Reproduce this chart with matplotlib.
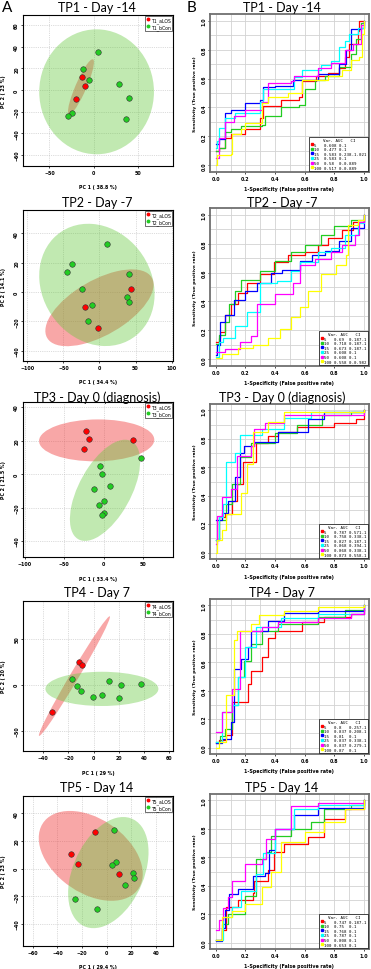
import numpy as np
import matplotlib
matplotlib.use("Agg")
import matplotlib.pyplot as plt
import matplotlib.transforms as transforms
from matplotlib.patches import Ellipse
from matplotlib.lines import Line2D


# ---- PCA score plots (left column) ----
TITLES = ["TP1 - Day -14", "TP2 - Day -7", "TP3 - Day 0 (diagnosis)", "TP4 - Day 7", "TP5 - Day 14"]
PC1_LABELS = ["PC 1 ( 38.8 %)", "PC 1 ( 34.4 %)", "PC 1 ( 33.4 %)", "PC 1 ( 29 %)", "PC 1 ( 29.4 %)"]
PC2_LABELS = ["PC 2 ( 23 %)", "PC 2 ( 14.1 %)", "PC 2 ( 21.5 %)", "PC 2 ( 20 %)", "PC 2 ( 23 %)"]
LOS_NAMES = ["T1_aLOS", "T2_aLOS", "T3_aLOS", "T4_aLOS", "T5_aLOS"]
CON_NAMES = ["T1_bCon", "T2_bCon", "T3_bCon", "T4_bCon", "T5_bCon"]

TP1_LOS_X = [-13.2, -9.4, -20.3]
TP1_LOS_Y = [12.0, 3.7, -8.6]
TP1_CON_X = [-12.0, -5.3, 4.9, 28.6, 39.8, 37.2, -24.4, -29.0]
TP1_CON_Y = [19.0, 9.5, 35.4, 5.8, -7.7, -26.5, -21.5, -24.0]

TP2_LOS_X = [44.4, -20.1, -1.9]
TP2_LOS_Y = [1.8, -10.2, -24.3]
TP2_CON_X = [10.3, -37.9, -44.4, 40.7, -24.3, 38.3, 41.6, -10.3, -15.9]
TP2_CON_Y = [33.0, 19.3, 13.6, 12.5, 2.0, -3.4, -6.6, -8.6, -19.5]

TP3_LOS_X = [-22.7, -18.2, -25.2, 37.6]
TP3_LOS_Y = [25.9, 21.1, 14.7, 20.5]
TP3_CON_X = [47.5, -4.1, -2.5, -11.6, 7.9, 1.2, -6.2, 1.2, -2.1]
TP3_CON_Y = [9.6, 4.8, 0.2, -8.8, -7.4, -16.3, -18.7, -23.1, -24.7]

TP4_LOS_X = [-11.4, -9.3, -32.8]
TP4_LOS_Y = [24.5, 21.3, -30.0]
TP4_CON_X = [-17.0, -13.2, -9.8, -0.3, 6.9, 12.5, 22.0, 20.4, 37.6]
TP4_CON_Y = [6.1, -1.1, -6.5, -13.0, -10.8, 4.3, 0.0, -14.4, 0.4]

TP5_LOS_X = [-9.3, -28.8, -23.4, 10.1]
TP5_LOS_Y = [26.7, 10.6, 3.1, -3.9]
TP5_CON_X = [6.3, 7.6, 4.6, 21.2, 22.0, 15.0, -25.6, -7.9]
TP5_CON_Y = [28.0, 5.1, 2.4, -2.9, -6.7, -12.0, -21.9, -28.9]

# 95% ellipses: centre x, centre y, x half-extent, y half-extent, correlation
LOS_ELLIPSES = [(-14.3, 2.9, 14.7, 25.4, 0.89), (0.0, -10.7, 75.0, 26.2, 0.6),
                (-8.7, 20.1, 73.0, 12.5, 0.03), (-15.2, 9.4, 28.2, 65.0, 0.99),
                (-12.9, 9.2, 42.3, 32.5, -0.4)]
CON_ELLIPSES = [(3.4, -1.7, 65.0, 57.5, 0.0), (-3.5, 4.9, 80.0, 41.7, -0.15),
                (1.9, -9.7, 44.5, 30.2, 0.57), (6.6, -4.5, 44.8, 18.6, 0.0),
                (1.4, -2.9, 32.7, 40.2, 0.37)]

PCA_XLIMS = [(-80, 90), (-106, 102), (-102, 88), (-56, 63), (-68, 54)]
PCA_YLIMS = [(-70, 69), (-47, 56), (-49.5, 43), (-72, 91), (-56, 52.5)]
PCA_XTICKS = [[-50, 0, 50], [-100, -50, 0, 50, 100], [-100, -50, 0, 50],
              [-40, -20, 0, 20, 40, 60], [-60, -40, -20, 0, 20, 40]]
PCA_YTICKS = [[-60, -40, -20, 0, 20, 40, 60], [-40, -20, 0, 20, 40], [-40, -20, 0, 20, 40],
              [-50, 0, 50], [-40, -20, 0, 20, 40]]

# ---- ROC curves (right column) ----
VAR_SIZES = [5, 10, 15, 25, 50, 100]
AUC = [[0.608, 0.477, 0.583, 0.583, 0.58, 0.517],
       [0.69, 0.718, 0.673, 0.608, 0.608, 0.558],
       [0.787, 0.758, 0.827, 0.868, 0.868, 0.873],
       [0.80, 0.837, 0.81, 0.837, 0.837, 0.87],
       [0.747, 0.75, 0.768, 0.787, 0.808, 0.653]]
CI = [["0-1", "0-1", "0.238-1.021", "0-1", "0-0.889", "0-0.889"],
      ["0.187-1", "0.187-1", "0.187-1", "0-1", "0-1", "0-0.982"],
      ["0.571-1", "0.338-1", "0.187-1", "0.394-1", "0.338-1", "0.558-1"],
      ["0.257-1", "0.208-1", "0-1", "0.338-1", "0.279-1", "0-1"],
      ["0.187-1", "0-1", "0-1", "0-1", "0-1", "0-1"]]

ROC1_X = [[0, 0.02, 0.06, 0.1, 0.2, 0.3, 0.32, 0.44, 0.56, 0.58, 0.68, 0.76, 0.83, 0.87, 0.9, 0.96, 0.97, 1.0],
          [0, 0.02, 0.06, 0.1, 0.17, 0.31, 0.33, 0.44, 0.56, 0.6, 0.67, 0.74, 0.83, 0.91, 0.95, 0.98, 1.0],
          [0, 0.02, 0.06, 0.1, 0.2, 0.3, 0.32, 0.4, 0.52, 0.69, 0.83, 0.88, 0.91, 0.98, 1.0],
          [0, 0.01, 0.02, 0.06, 0.13, 0.3, 0.32, 0.53, 0.58, 0.71, 0.78, 0.83, 0.87, 0.9, 0.96, 1.0],
          [0, 0.02, 0.06, 0.12, 0.2, 0.31, 0.35, 0.51, 0.53, 0.69, 0.78, 0.87, 0.93, 0.98, 1.0],
          [0, 0.01, 0.1, 0.11, 0.17, 0.2, 0.31, 0.35, 0.49, 0.58, 0.76, 0.85, 0.91, 0.97, 0.99, 1.0]]
ROC1_Y = [[0.10, 0.12, 0.19, 0.22, 0.25, 0.33, 0.41, 0.45, 0.47, 0.58, 0.62, 0.64, 0.67, 0.75, 0.84, 0.93, 1.0, 1.0],
          [0.10, 0.12, 0.23, 0.25, 0.27, 0.28, 0.34, 0.40, 0.42, 0.53, 0.59, 0.62, 0.68, 0.77, 0.87, 0.98, 1.0],
          [0.15, 0.18, 0.36, 0.38, 0.43, 0.45, 0.54, 0.55, 0.59, 0.63, 0.70, 0.80, 0.94, 0.95, 1.0],
          [0.12, 0.17, 0.26, 0.33, 0.36, 0.44, 0.53, 0.61, 0.66, 0.69, 0.72, 0.82, 0.86, 0.91, 0.95, 1.0],
          [0.05, 0.19, 0.30, 0.34, 0.38, 0.44, 0.57, 0.58, 0.62, 0.67, 0.71, 0.80, 0.84, 0.97, 1.0],
          [0.0, 0.07, 0.08, 0.22, 0.25, 0.29, 0.43, 0.47, 0.50, 0.59, 0.62, 0.66, 0.73, 0.75, 0.91, 1.0]]

ROC2_X = [[0, 0.02, 0.03, 0.06, 0.10, 0.15, 0.21, 0.30, 0.39, 0.49, 0.60, 0.69, 0.76, 0.85, 0.93, 1.0],
          [0, 0.02, 0.06, 0.09, 0.13, 0.17, 0.30, 0.40, 0.51, 0.60, 0.71, 0.80, 0.91, 1.0],
          [0, 0.01, 0.03, 0.06, 0.12, 0.20, 0.28, 0.37, 0.45, 0.57, 0.65, 0.74, 0.83, 0.91, 1.0],
          [0, 0.02, 0.05, 0.13, 0.21, 0.30, 0.41, 0.51, 0.57, 0.69, 0.78, 0.87, 0.96, 1.0],
          [0, 0.06, 0.16, 0.24, 0.28, 0.40, 0.52, 0.57, 0.67, 0.78, 0.85, 0.94, 0.97, 1.0],
          [0, 0.04, 0.15, 0.25, 0.35, 0.43, 0.51, 0.57, 0.62, 0.71, 0.81, 0.88, 0.89, 0.96, 1.0]]
ROC2_Y = [[0.12, 0.15, 0.19, 0.31, 0.38, 0.46, 0.53, 0.59, 0.67, 0.72, 0.74, 0.79, 0.84, 0.89, 0.95, 1.0],
          [0.11, 0.17, 0.26, 0.38, 0.47, 0.55, 0.61, 0.68, 0.74, 0.79, 0.86, 0.92, 0.96, 1.0],
          [0.03, 0.10, 0.26, 0.31, 0.41, 0.47, 0.53, 0.60, 0.62, 0.68, 0.72, 0.75, 0.82, 0.91, 1.0],
          [0.02, 0.12, 0.15, 0.23, 0.33, 0.53, 0.54, 0.61, 0.67, 0.74, 0.77, 0.86, 0.94, 1.0],
          [0.05, 0.07, 0.12, 0.16, 0.38, 0.45, 0.53, 0.65, 0.69, 0.74, 0.79, 0.86, 0.95, 1.0],
          [0.01, 0.04, 0.08, 0.10, 0.15, 0.21, 0.29, 0.36, 0.47, 0.59, 0.65, 0.72, 0.93, 0.96, 1.0]]

ROC3_X = [[0, 0.02, 0.06, 0.11, 0.14, 0.18, 0.27, 0.35, 0.42, 0.55, 0.80, 0.95, 1.0],
          [0, 0.02, 0.07, 0.11, 0.16, 0.24, 0.40, 0.55, 0.72, 0.91, 1.0],
          [0, 0.04, 0.08, 0.13, 0.16, 0.19, 0.26, 0.42, 0.62, 0.73, 1.0],
          [0, 0.02, 0.05, 0.07, 0.13, 0.16, 0.31, 0.46, 0.64, 1.0],
          [0, 0.01, 0.04, 0.10, 0.14, 0.24, 0.26, 0.33, 0.46, 1.0],
          [0, 0.01, 0.04, 0.07, 0.17, 0.21, 0.25, 0.35, 0.46, 1.0]]
ROC3_Y = [[0.09, 0.25, 0.27, 0.36, 0.48, 0.64, 0.77, 0.82, 0.85, 0.88, 0.91, 0.94, 1.0],
          [0.09, 0.23, 0.34, 0.48, 0.67, 0.77, 0.84, 0.90, 0.97, 0.99, 1.0],
          [0.23, 0.28, 0.36, 0.53, 0.70, 0.75, 0.78, 0.85, 0.94, 0.99, 1.0],
          [0.09, 0.25, 0.34, 0.64, 0.70, 0.83, 0.87, 0.95, 0.99, 1.0],
          [0.06, 0.26, 0.39, 0.45, 0.68, 0.75, 0.87, 0.91, 0.97, 1.0],
          [0.0, 0.09, 0.16, 0.27, 0.42, 0.62, 0.85, 0.92, 0.99, 1.0]]

ROC4_X = [[0, 0.02, 0.07, 0.11, 0.20, 0.22, 0.24, 0.31, 0.35, 0.40, 0.58, 0.73, 0.91, 1.0],
          [0, 0.03, 0.06, 0.11, 0.15, 0.19, 0.24, 0.31, 0.42, 0.69, 0.87, 1.0],
          [0, 0.04, 0.10, 0.12, 0.17, 0.22, 0.24, 0.35, 0.46, 0.69, 1.0],
          [0, 0.04, 0.11, 0.15, 0.20, 0.27, 0.44, 0.69, 1.0],
          [0, 0.04, 0.11, 0.16, 0.31, 0.42, 0.69, 0.91, 1.0],
          [0, 0.02, 0.07, 0.12, 0.14, 0.24, 0.29, 0.46, 0.69, 1.0]]
ROC4_Y = [[0.03, 0.05, 0.09, 0.32, 0.32, 0.45, 0.54, 0.64, 0.77, 0.82, 0.88, 0.92, 0.94, 0.97],
          [0.04, 0.08, 0.13, 0.30, 0.50, 0.61, 0.73, 0.82, 0.87, 0.92, 0.97, 1.0],
          [0.03, 0.06, 0.18, 0.55, 0.62, 0.71, 0.82, 0.89, 0.95, 0.96, 1.0],
          [0.04, 0.25, 0.30, 0.50, 0.71, 0.85, 0.91, 0.94, 1.0],
          [0.11, 0.25, 0.41, 0.82, 0.85, 0.88, 0.91, 0.94, 1.0],
          [0.0, 0.04, 0.37, 0.76, 0.82, 0.87, 0.93, 0.96, 0.99, 1.0]]

ROC5_X = [[0, 0.04, 0.07, 0.15, 0.25, 0.26, 0.35, 0.39, 0.46, 0.62, 0.73, 0.87, 1.0],
          [0, 0.04, 0.08, 0.20, 0.27, 0.34, 0.37, 0.51, 0.64, 0.73, 0.91, 1.0],
          [0, 0.04, 0.06, 0.09, 0.15, 0.25, 0.33, 0.36, 0.40, 0.53, 0.69, 1.0],
          [0, 0.05, 0.11, 0.17, 0.27, 0.32, 0.40, 0.53, 0.69, 1.0],
          [0, 0.02, 0.05, 0.08, 0.11, 0.20, 0.31, 0.34, 0.40, 0.51, 0.69, 1.0],
          [0, 0.04, 0.11, 0.20, 0.31, 0.37, 0.44, 0.60, 0.73, 0.87, 1.0]]
ROC5_Y = [[0.02, 0.09, 0.25, 0.30, 0.35, 0.43, 0.51, 0.64, 0.69, 0.74, 0.87, 0.94, 1.0],
          [0.02, 0.13, 0.20, 0.33, 0.59, 0.64, 0.75, 0.80, 0.85, 0.94, 0.97, 1.0],
          [0.01, 0.10, 0.23, 0.34, 0.38, 0.47, 0.49, 0.65, 0.80, 0.90, 0.95, 1.0],
          [0.02, 0.18, 0.25, 0.36, 0.48, 0.63, 0.80, 0.94, 0.97, 1.0],
          [0.09, 0.16, 0.24, 0.32, 0.43, 0.55, 0.59, 0.73, 0.80, 0.96, 0.98, 1.0],
          [0.02, 0.18, 0.22, 0.27, 0.39, 0.50, 0.71, 0.78, 0.85, 0.94, 1.0]]

LOS_X = [TP1_LOS_X, TP2_LOS_X, TP3_LOS_X, TP4_LOS_X, TP5_LOS_X]
LOS_Y = [TP1_LOS_Y, TP2_LOS_Y, TP3_LOS_Y, TP4_LOS_Y, TP5_LOS_Y]
CON_X = [TP1_CON_X, TP2_CON_X, TP3_CON_X, TP4_CON_X, TP5_CON_X]
CON_Y = [TP1_CON_Y, TP2_CON_Y, TP3_CON_Y, TP4_CON_Y, TP5_CON_Y]
ROC_X = [ROC1_X, ROC2_X, ROC3_X, ROC4_X, ROC5_X]
ROC_Y = [ROC1_Y, ROC2_Y, ROC3_Y, ROC4_Y, ROC5_Y]

ROC_COLORS = ["#ff0000", "#22cc22", "#0000ff", "#00ffff", "#ff00ff", "#ffff00"]
RED = "#ff0000"
GREEN = "#22cc22"

W, H = 371, 970
# axes boxes in pixels: (top, bottom)
LEFT_ROWS = [(16, 167), (211, 362), (403, 558), (602, 752), (797, 947)]
RIGHT_ROWS = [(15, 173), (209, 367), (405, 560), (600, 755), (795, 950)]
TITLE_Y = [8, 203, 398, 593, 788]
TITLE_FONT = ["Lato", "DejaVu Sans"]

fig = plt.figure(figsize=(W / 100, H / 100), dpi=100)


def px_axes(x0, x1, top, bottom):
    return fig.add_axes([x0 / W, 1 - bottom / H, (x1 - x0) / W, (bottom - top) / H])


def conf_ellipse(ax, params, color, alpha):
    cx, cy, rx, ry, rho = params
    ell = Ellipse((0, 0), width=2 * np.sqrt(1 + rho), height=2 * np.sqrt(1 - rho),
                  angle=45, facecolor=color, edgecolor="none", alpha=alpha, zorder=2)
    tr = transforms.Affine2D().scale(rx, ry).translate(cx, cy)
    ell.set_transform(tr + ax.transData)
    ax.add_patch(ell)


def style_ticks(ax):
    ax.tick_params(labelsize=3.4, length=1.5, width=0.5, pad=1.2)
    for lab in ax.get_xticklabels() + ax.get_yticklabels():
        lab.set_fontweight("bold")
    for lab in ax.get_yticklabels():
        lab.set_rotation(90)
        lab.set_va("center")


for i in range(5):
    # --- PCA panel ---
    top, bot = LEFT_ROWS[i]
    ax = px_axes(23, 173, top, bot)
    ax.set_xlim(PCA_XLIMS[i])
    ax.set_ylim(PCA_YLIMS[i])
    ax.set_xticks(PCA_XTICKS[i])
    ax.set_yticks(PCA_YTICKS[i])
    ax.grid(True, color="#bbbbbb", linestyle=":", linewidth=0.5, zorder=0)
    ax.set_axisbelow(True)
    conf_ellipse(ax, LOS_ELLIPSES[i], "#f03c3c", 0.45)
    conf_ellipse(ax, CON_ELLIPSES[i], "#64c83c", 0.4)
    ax.plot(CON_X[i], CON_Y[i], "o", color=GREEN, mec="#333333", mew=0.4, ms=4.0, zorder=4)
    ax.plot(LOS_X[i], LOS_Y[i], "o", color=RED, mec="#333333", mew=0.4, ms=4.0, zorder=5)
    handles = [Line2D([], [], marker="o", color=RED, ls="none", ms=1.8),
               Line2D([], [], marker="o", color=GREEN, ls="none", ms=1.8)]
    leg = ax.legend(handles, [LOS_NAMES[i], CON_NAMES[i]], loc="upper right",
                    prop={"size": 3.3}, frameon=True, fancybox=False,
                    borderaxespad=0.15, handletextpad=0.2, handlelength=0.8,
                    borderpad=0.3, labelspacing=0.25)
    leg.get_frame().set_edgecolor("black")
    leg.get_frame().set_linewidth(0.5)
    for sp in ax.spines.values():
        sp.set_linewidth(0.8)
    style_ticks(ax)
    fig.text(98 / W, 1 - (bot + 21) / H, PC1_LABELS[i], ha="center", va="center",
             fontsize=3.4, fontweight="bold")
    fig.text(4 / W, 1 - ((top + bot) / 2) / H, PC2_LABELS[i], ha="center", va="center",
             rotation=90, fontsize=3.4, fontweight="bold")
    fig.text(97 / W, 1 - TITLE_Y[i] / H, TITLES[i], ha="center", va="center",
             fontsize=9, family=TITLE_FONT)

    # --- ROC panel ---
    top, bot = RIGHT_ROWS[i]
    ax = px_axes(210, 369, top, bot)
    ax.set_xlim(-0.04, 1.035)
    ax.set_ylim(-0.045, 1.045)
    ax.set_xticks(np.arange(0, 1.01, 0.2))
    ax.set_yticks(np.arange(0, 1.01, 0.2))
    ax.set_xticks(np.arange(0.1, 1.0, 0.2), minor=True)
    ax.set_yticks(np.arange(0.1, 1.0, 0.2), minor=True)
    ax.xaxis.set_major_formatter(plt.FormatStrFormatter("%.1f"))
    ax.yaxis.set_major_formatter(plt.FormatStrFormatter("%.1f"))
    ax.grid(True, which="both", color="#d2d2d2", linewidth=0.6)
    ax.tick_params(which="minor", length=0)
    ax.set_axisbelow(True)
    for k in range(6):
        ax.plot(ROC_X[i][k], ROC_Y[i][k], drawstyle="steps-post",
                color=ROC_COLORS[k], lw=0.9, zorder=3)
    handles = [Line2D([], [], marker="s", color=c, ls="none", ms=1.6) for c in ROC_COLORS]
    labels = [f"{v:<4}{a:<6}{c}" for v, a, c in zip(VAR_SIZES, AUC[i], CI[i])]
    leg = ax.legend(handles, labels, loc="lower right", title="Var. AUC   CI",
                    prop={"size": 3.0, "family": "DejaVu Sans Mono"},
                    title_fontproperties={"size": 3.0, "family": "DejaVu Sans Mono"},
                    frameon=True, fancybox=False, borderaxespad=0.2,
                    handletextpad=0.2, handlelength=0.6, borderpad=0.35,
                    labelspacing=0.15)
    leg.get_frame().set_edgecolor("black")
    leg.get_frame().set_linewidth(0.5)
    leg.get_frame().set_alpha(1)
    for sp in ax.spines.values():
        sp.set_linewidth(1.3)
        sp.set_color("#707070")
    style_ticks(ax)
    fig.text(289 / W, 1 - (bot + 17) / H, "1-Specificity (False positive rate)",
             ha="center", va="center", fontsize=3.4, fontweight="bold")
    fig.text(195 / W, 1 - ((top + bot) / 2) / H, "Sensitivity (True positive rate)",
             ha="center", va="center", rotation=90, fontsize=3.2, fontweight="bold")
    fig.text(282 / W, 1 - TITLE_Y[i] / H, TITLES[i], ha="center", va="center",
             fontsize=9, family=TITLE_FONT)

fig.text(2 / W, 1 - 8 / H, "A", ha="left", va="center", fontsize=11, family=TITLE_FONT)
fig.text(187 / W, 1 - 8 / H, "B", ha="left", va="center", fontsize=11, family=TITLE_FONT)

plt.savefig("out.png", dpi=100)
plt.close(fig)
